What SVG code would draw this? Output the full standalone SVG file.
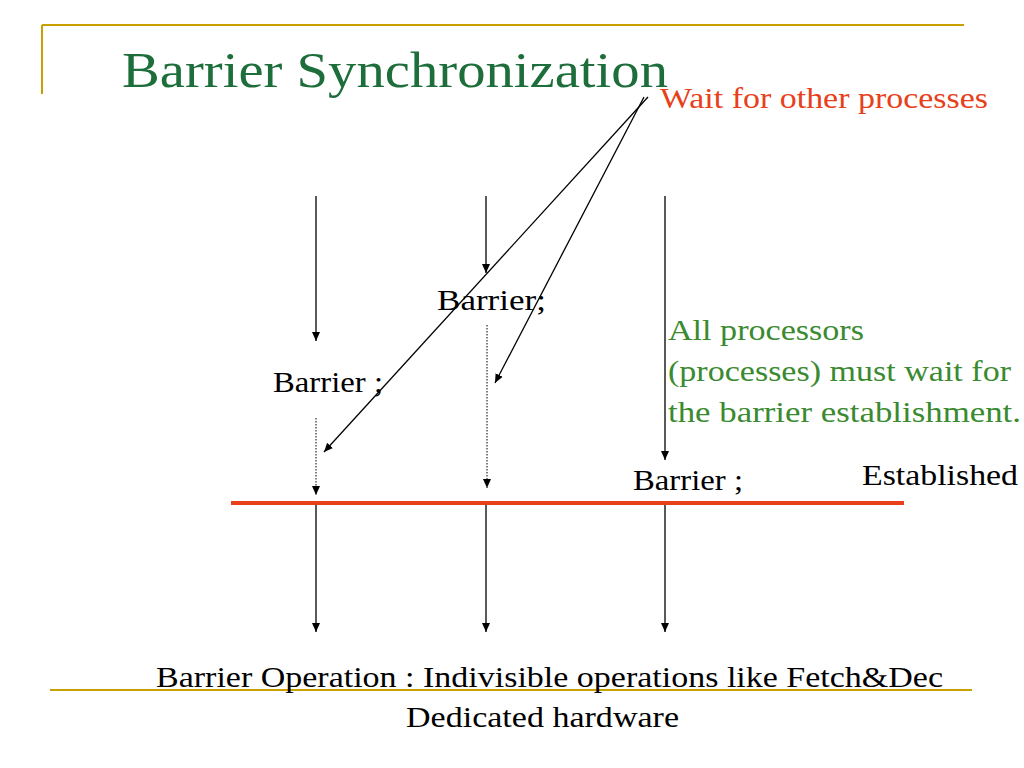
<svg xmlns="http://www.w3.org/2000/svg" width="1024" height="768" viewBox="0 0 1024 768">
<style>
text{font-family:"Liberation Serif","Times New Roman","DejaVu Serif",serif}
.t{font-size:29px;fill:#000}
.g{font-size:29px;fill:#3a8a30}
.a{stroke:#000;stroke-width:1.3;fill:none;marker-end:url(#ah)}
.d{stroke:#000;stroke-width:1;stroke-dasharray:1.5 1.5;fill:none;marker-end:url(#ah)}
</style>
<defs><marker id="ah" markerWidth="10" markerHeight="10" refX="9" refY="5" orient="auto" markerUnits="userSpaceOnUse"><path d="M0,1 L9,5 L0,9 Z" fill="#000"/></marker></defs>
<rect width="1024" height="768" fill="#fff"/>
<g id="frame" stroke="#c8a000" stroke-width="2">
<line x1="42" y1="25" x2="964" y2="25"/><line x1="42" y1="25" x2="42" y2="94"/>
<line x1="50" y1="690" x2="972" y2="690"/>
</g>
<text x="122" y="87" font-size="50" fill="#1e6e3c" textLength="546" lengthAdjust="spacingAndGlyphs">Barrier Synchronization</text>
<text x="660" y="108" font-size="30" fill="#e8401a" textLength="328" lengthAdjust="spacingAndGlyphs">Wait for other processes</text>
<line x1="231" y1="503" x2="904" y2="503" stroke="#e8401a" stroke-width="4"/>
<g id="connectors">
<path class="a" d="M316,196 V341"/><path class="a" d="M486,196 V273"/><path class="a" d="M665,196 V460"/>
<path class="d" d="M316,418 V495"/><path class="d" d="M487,325 V488"/>
<path class="a" d="M648,97 L324,452"/><path class="a" d="M644,97 L495,383"/>
<path class="a" d="M316,505 V632"/><path class="a" d="M486,505 V632"/><path class="a" d="M665,505 V632"/>
</g>
<g id="labels">
<text class="t" x="437" y="310" textLength="109" lengthAdjust="spacingAndGlyphs">Barrier;</text>
<text class="t" x="273" y="392" textLength="110" lengthAdjust="spacingAndGlyphs">Barrier ;</text>
<text class="t" x="633" y="490" textLength="110" lengthAdjust="spacingAndGlyphs">Barrier ;</text>
<text class="t" x="862" y="485" textLength="156" lengthAdjust="spacingAndGlyphs">Established</text>
<text class="g" x="668" y="340" textLength="196" lengthAdjust="spacingAndGlyphs">All processors</text>
<text class="g" x="668" y="381" textLength="343" lengthAdjust="spacingAndGlyphs">(processes) must wait for</text>
<text class="g" x="668" y="422" textLength="353" lengthAdjust="spacingAndGlyphs">the  barrier establishment.</text>
<text class="t" x="156" y="687" textLength="787" lengthAdjust="spacingAndGlyphs">Barrier Operation : Indivisible operations like Fetch&amp;Dec</text>
<text class="t" x="406" y="727" textLength="273" lengthAdjust="spacingAndGlyphs">Dedicated hardware</text>
</g>
</svg>
